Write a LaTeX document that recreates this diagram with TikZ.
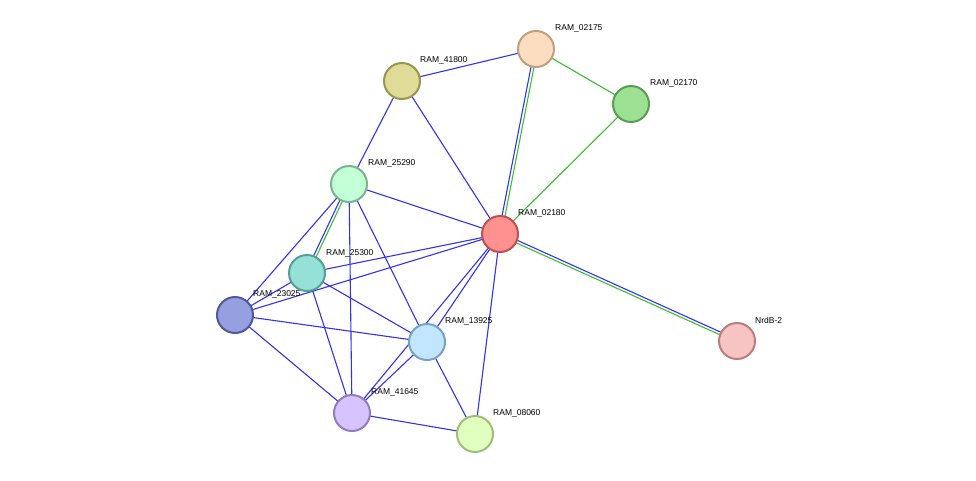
\documentclass[tikz,border=0pt]{standalone}
\usepackage{fontspec}
\setmainfont{Liberation Sans}
\pgfdeclarelayer{bg}
\pgfsetlayers{bg,main}
\begin{document}
\begin{tikzpicture}[x=1pt,y=-1pt,
  nd/.style={circle,minimum size=36pt,inner sep=0pt,line width=2pt},
  lb/.style={anchor=west,font=\fontsize{8.5pt}{10pt}\selectfont,inner sep=0pt},
  bl/.style={draw={rgb,255:red,50;green,50;blue,240},line width=1.1pt},
  gr/.style={draw={rgb,255:red,60;green,190;blue,50},line width=1.1pt}]
\useasboundingbox (0,0) rectangle (976,480);
\node[nd,fill={rgb,255:red,253;green,221;blue,192},draw={rgb,255:red,190;green,160;blue,130}] (n02175) at (536,49) {};
\node[nd,fill={rgb,255:red,222;green,220;blue,150},draw={rgb,255:red,150;green,150;blue,80}] (n41800) at (402,81) {};
\node[nd,fill={rgb,255:red,155;green,225;blue,145},draw={rgb,255:red,90;green,155;blue,85}] (n02170) at (631,104) {};
\node[nd,fill={rgb,255:red,195;green,255;blue,215},draw={rgb,255:red,120;green,180;blue,140}] (n25290) at (349,184) {};
\node[nd,fill={rgb,255:red,255;green,145;blue,145},draw={rgb,255:red,190;green,80;blue,80}] (n02180) at (500,234) {};
\node[nd,fill={rgb,255:red,150;green,225;blue,215},draw={rgb,255:red,85;green,160;blue,150}] (n25300) at (307,273) {};
\node[nd,fill={rgb,255:red,150;green,160;blue,225},draw={rgb,255:red,80;green,90;blue,150}] (n23025) at (235,315) {};
\node[nd,fill={rgb,255:red,195;green,230;blue,255},draw={rgb,255:red,120;green,160;blue,200}] (n13925) at (427,342) {};
\node[nd,fill={rgb,255:red,247;green,195;blue,195},draw={rgb,255:red,185;green,125;blue,125}] (nNrdB) at (737,341) {};
\node[nd,fill={rgb,255:red,215;green,195;blue,255},draw={rgb,255:red,145;green,125;blue,190}] (n41645) at (352,413) {};
\node[nd,fill={rgb,255:red,225;green,255;blue,190},draw={rgb,255:red,160;green,190;blue,120}] (n08060) at (475,434) {};
\node[lb] (l02175) at (555,28) {RAM\_02175};
\node[lb] (l41800) at (420,60) {RAM\_41800};
\node[lb] (l02170) at (650,83) {RAM\_02170};
\node[lb] (l25290) at (368,163) {RAM\_25290};
\node[lb] (l02180) at (518,213) {RAM\_02180};
\node[lb] (l25300) at (326,253) {RAM\_25300};
\node[lb] (l23025) at (253,294) {RAM\_23025};
\node[lb] (l13925) at (445,321) {RAM\_13925};
\node[lb] (lNrdB) at (755,320) {NrdB-2};
\node[lb] (l41645) at (371,392) {RAM\_41645};
\node[lb] (l08060) at (493,413) {RAM\_08060};
\begin{pgfonlayer}{bg}
\draw[bl] (n41800.center) -- (n02175.center);
\draw[bl,transform canvas={xshift=-1.5pt}] (n02175.center) -- (n02180.center);
\draw[gr,transform canvas={xshift=1.5pt}] (n02175.center) -- (n02180.center);
\draw[gr] (n02175.center) -- (n02170.center);
\draw[gr] (n02170.center) -- (n02180.center);
\draw[bl] (n41800.center) -- (n25290.center);
\draw[bl] (n41800.center) -- (n02180.center);
\draw[bl] (n25290.center) -- (n02180.center);
\draw[bl,transform canvas={xshift=-1.5pt}] (n25290.center) -- (n25300.center);
\draw[gr,transform canvas={xshift=1.5pt}] (n25290.center) -- (n25300.center);
\draw[bl] (n25290.center) -- (n23025.center);
\draw[bl] (n25290.center) -- (n41645.center);
\draw[bl] (n25290.center) -- (n13925.center);
\draw[bl] (n02180.center) -- (n25300.center);
\draw[bl] (n02180.center) -- (n23025.center);
\draw[bl] (n02180.center) -- (n13925.center);
\draw[bl] (n02180.center) -- (n41645.center);
\draw[bl] (n02180.center) -- (n08060.center);
\draw[bl,transform canvas={yshift=1.5pt}] (n02180.center) -- (nNrdB.center);
\draw[gr,transform canvas={yshift=-1.5pt}] (n02180.center) -- (nNrdB.center);
\draw[bl] (n25300.center) -- (n23025.center);
\draw[bl] (n25300.center) -- (n41645.center);
\draw[bl] (n25300.center) -- (n13925.center);
\draw[bl] (n23025.center) -- (n13925.center);
\draw[bl] (n23025.center) -- (n41645.center);
\draw[bl] (n13925.center) -- (n41645.center);
\draw[bl] (n13925.center) -- (n08060.center);
\draw[bl] (n41645.center) -- (n08060.center);
\end{pgfonlayer}
\end{tikzpicture}
\end{document}
